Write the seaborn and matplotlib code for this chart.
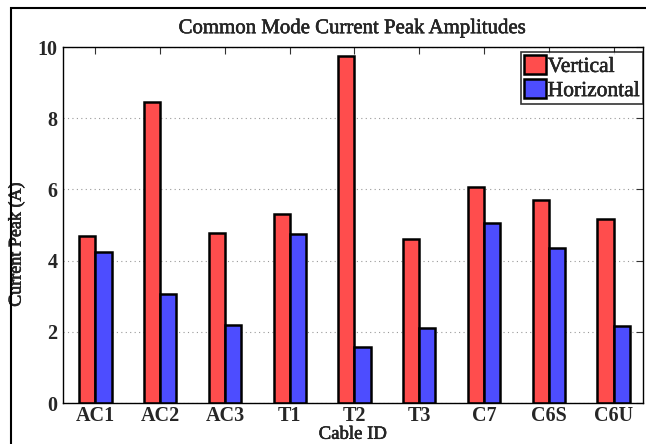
import pandas as pd
import matplotlib
matplotlib.use("Agg")
import matplotlib.pyplot as plt
import matplotlib.patheffects as pe
import seaborn as sns
from matplotlib.patches import Rectangle

# Peak amplitudes
cables = ["AC1", "AC2", "AC3", "T1", "T2", "T3", "C7", "C6S", "C6U"]
vertical = [4.68, 8.46, 4.79, 5.32, 9.76, 4.60, 6.06, 5.70, 5.17]
horizontal = [4.24, 3.06, 2.20, 4.75, 1.58, 2.11, 5.06, 4.35, 2.17]
yticks = [0, 2, 4, 6, 8, 10]

df = pd.DataFrame({
    "Cable": cables * 2,
    "Peak": vertical + horizontal,
    "Orientation": ["Vertical"] * len(cables) + ["Horizontal"] * len(cables),
})

sns.set_style("white")
plt.rcParams["font.family"] = ["Liberation Serif", "DejaVu Serif"]

fig = plt.figure(figsize=(6.46, 4.44), dpi=100)
ax = fig.add_axes([0.0975, 0.0923, 0.8975, 0.8017])

sns.barplot(data=df, x="Cable", y="Peak", hue="Orientation",
            palette={"Vertical": "#ff4d4d", "Horizontal": "#4d4dff"},
            width=0.5, edgecolor="black", linewidth=1.8, saturation=1,
            ax=ax)

ax.set_xlim(-0.5, 8.45)
ax.set_ylim(0, 10)
ax.set_yticks(yticks)
ax.yaxis.grid(True, linestyle=(0, (1, 3)), color="#999999", linewidth=0.8)
ax.set_axisbelow(True)
ax.tick_params(direction="in", length=5, width=0.8, top=True, right=True,
               labelsize=14.5, color="#333333")
ax.tick_params(axis="x", pad=2)
ax.tick_params(axis="y", pad=4)
for lbl in ax.get_xticklabels() + ax.get_yticklabels():
    lbl.set_fontweight("bold")
for s in ax.spines.values():
    s.set_linewidth(1.0)
    s.set_color("black")

heavy = [pe.withStroke(linewidth=0.35, foreground="black")]
ax.set_title("Common Mode Current Peak Amplitudes", fontsize=15, pad=10,
             path_effects=heavy)
ax.set_ylabel("Current Peak (A)", fontsize=13, path_effects=heavy)
ax.yaxis.set_label_coords(-0.066, 0.445)
ax.set_xlabel("Cable ID", fontsize=13.5, labelpad=0, path_effects=heavy)

leg = ax.legend(loc="upper right", bbox_to_anchor=(1.0, 0.987),
                fontsize=15.5, frameon=True, fancybox=False,
                handlelength=1.0, handleheight=1.0, handletextpad=0.1,
                borderpad=0.15, labelspacing=0.1, borderaxespad=0.0)
leg.get_frame().set_edgecolor("black")
leg.get_frame().set_linewidth(1.2)
for t in leg.get_texts():
    t.set_path_effects(heavy)

# outer frame of the original figure (left and top edges visible)
fig.patches.append(Rectangle((11 / 646, -0.1), 2, 1 - 8 / 444 + 0.1,
                             transform=fig.transFigure, fill=False,
                             edgecolor="black", linewidth=1.5))

fig.savefig("out.png", dpi=100)
